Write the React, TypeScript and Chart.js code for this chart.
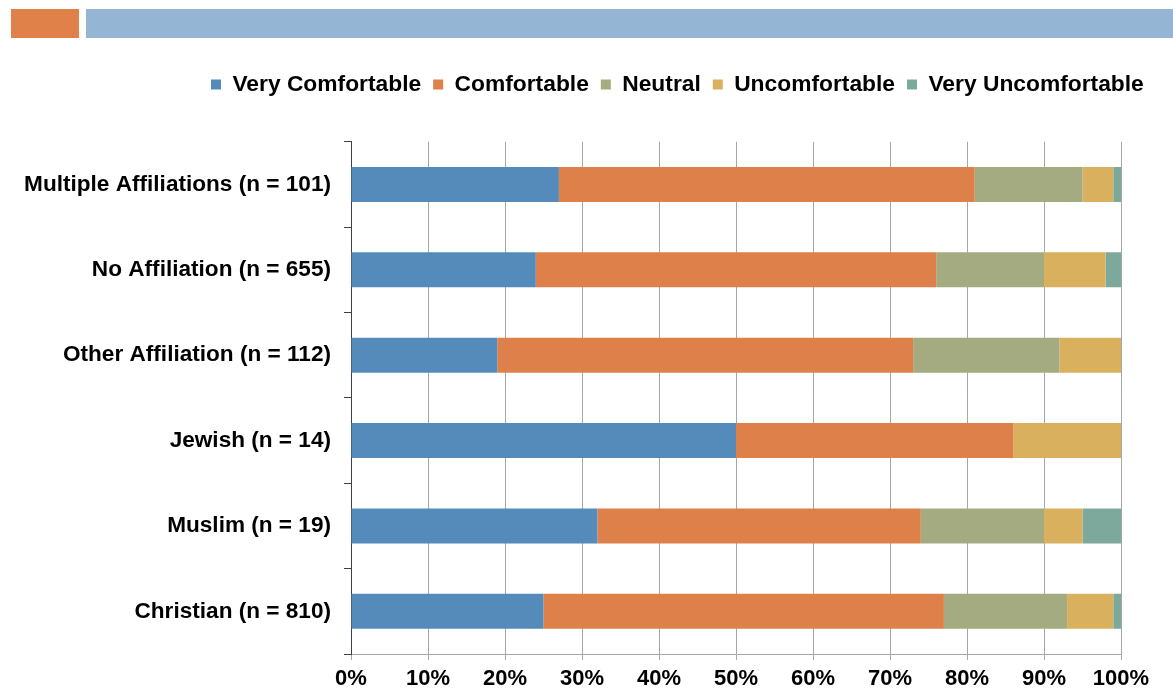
import React, { useEffect, useRef } from "react";
import { Chart, registerables } from "chart.js";

Chart.register(...registerables);

// Survey groups, top to bottom
const categories = [
  "Multiple Affiliations (n = 101)",
  "No Affiliation (n = 655)",
  "Other Affiliation (n = 112)",
  "Jewish (n = 14)",
  "Muslim (n = 19)",
  "Christian (n = 810)",
];

// Share of responses per group (%)
const veryComfortable = [27, 24, 19, 50, 32, 25];
const comfortable = [54, 52, 54, 36, 42, 52];
const neutral = [14, 14, 19, 0, 16, 16];
const uncomfortable = [4, 8, 8, 14, 5, 6];
const veryUncomfortable = [1, 2, 0, 0, 5, 1];

const seriesNames = [
  "Very Comfortable",
  "Comfortable",
  "Neutral",
  "Uncomfortable",
  "Very Uncomfortable",
];
const seriesColors = ["#558BBA", "#DE8049", "#A5AB80", "#D9B15E", "#7DA89C"];

const FONT = "'Liberation Sans', Arial, sans-serif";

// Keeps the legend on one row, moves it, and leaves a gap above the plot
const legendPlacement = {
  id: "legendPlacement",
  beforeInit(chart: any) {
    const legend = chart.legend;
    const fit = legend.fit;
    legend.fit = function () {
      this.maxWidth = 1400;
      fit.call(this);
      this.height += 36;
    };
  },
  afterLayout(chart: any) {
    const legend = chart.legend;
    legend.left = 199;
    legend.right = 1400;
    legend.width = legend.right - legend.left;
  },
};

export default function App() {
  const canvasRef = useRef<HTMLCanvasElement | null>(null);

  useEffect(() => {
    const canvas = canvasRef.current;
    if (!canvas) return;
    const values = [veryComfortable, comfortable, neutral, uncomfortable, veryUncomfortable];
    const chart = new Chart(canvas, {
      type: "bar",
      data: {
        labels: categories,
        datasets: values.map((data, i) => ({
          label: seriesNames[i],
          data,
          backgroundColor: seriesColors[i],
          borderWidth: 0,
          barPercentage: 0.41,
          categoryPercentage: 1,
        })),
      },
      options: {
        indexAxis: "y",
        responsive: false,
        animation: false,
        layout: { padding: { left: 0, right: 52, top: 61, bottom: 0 } },
        plugins: {
          legend: {
            position: "top",
            align: "start",
            labels: {
              boxWidth: 10,
              boxHeight: 10,
              padding: 12,
              color: "#000",
              font: { family: FONT, size: 22.8, weight: "bold" },
            },
          },
          tooltip: { enabled: false },
        },
        scales: {
          x: {
            stacked: true,
            min: 0,
            max: 100,
            afterFit(scale: any) {
              scale.height = 40;
            },
            ticks: {
              stepSize: 10,
              padding: 6,
              color: "#000",
              font: { family: FONT, size: 22, weight: "bold" },
              callback: (v: any) => `${v}%`,
            },
            grid: {
              color: "#A6A6A6",
              lineWidth: 1,
              tickLength: 6,
            },
            border: { color: "#A6A6A6", width: 1 },
          },
          y: {
            stacked: true,
            afterFit(scale: any) {
              scale.width = 351;
            },
            ticks: {
              padding: 13,
              color: "#000",
              font: { family: FONT, size: 22.6, weight: "bold" },
            },
            grid: {
              offset: true,
              drawOnChartArea: false,
              drawTicks: true,
              tickLength: 7,
              color: "#404040",
            },
            border: { color: "#404040", width: 1 },
          },
        },
      },
      plugins: [legendPlacement],
    });
    return () => chart.destroy();
  }, []);

  return (
    <div style={{ position: "absolute", left: 0, top: 0, width: 1173, height: 694, background: "#fff" }}>
      <div style={{ position: "absolute", left: 11, top: 9, width: 68, height: 29, background: "#E0814A" }} />
      <div style={{ position: "absolute", left: 86, top: 9, width: 1087, height: 29, background: "#94B5D3" }} />
      <canvas ref={canvasRef} width={1173} height={694} style={{ position: "absolute", left: 0, top: 0 }} />
    </div>
  );
}
